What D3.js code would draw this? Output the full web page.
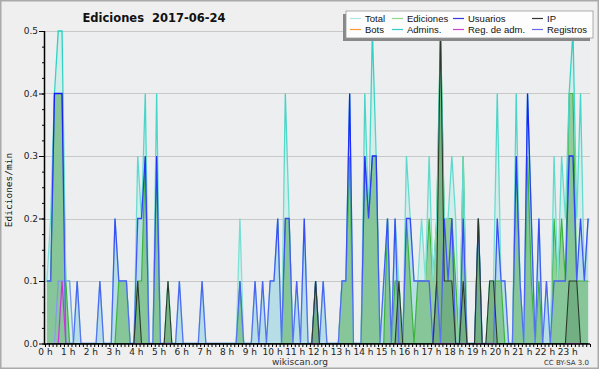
<!DOCTYPE html>
<html><head><meta charset="utf-8">
<script src="https://cdn.jsdelivr.net/npm/d3@7"></script>
<style>html,body{margin:0;padding:0;background:#fff;}svg{display:block;}</style>
</head><body>
<svg id="c" width="600" height="370"></svg>
<script>
// 10-minute intervals, 144 per day (edits per minute)
const hourLabels = d3.range(24).map(h => h + " h");
const yTicks = [0.0, 0.1, 0.2, 0.3, 0.4, 0.5];
const legendNames = ["Total","Ediciones","Usuarios","IP","Bots","Admins.","Reg. de adm.","Registros"];

const total = [
0.1,0.2,0.4,0.5,0.5,0.1,0.1,0,0.1,0,0,0,
0,0,0.1,0,0,0,0.2,0.1,0.1,0.1,0,0,
0.3,0.2,0.4,0,0,0.4,0,0,0.1,0,0,0.1,
0,0,0,0,0,0.1,0,0,0,0,0,0,
0,0,0,0.2,0,0,0,0.1,0,0.1,0,0.1,
0.1,0.2,0,0.4,0.2,0,0.1,0,0.2,0,0,0.1,
0,0.1,0,0,0,0,0.1,0.1,0.4,0,0,0,
0.4,0.2,0.5,0.3,0,0.1,0.2,0,0.2,0.1,0,0.3,
0.2,0.1,0.1,0.2,0.1,0.3,0.1,0.2,0.5,0.2,0.2,0.3,
0.2,0,0.3,0,0,0,0.2,0,0,0.1,0.1,0.4,
0.1,0.1,0,0,0.4,0.1,0,0.4,0.2,0,0.2,0,
0.1,0,0.3,0.1,0.3,0.2,0.4,0.5,0.2,0.4,0.1,0.2];

const ediciones = [
0.1,0.1,0.4,0.4,0.4,0.1,0,0,0,0,0,0,
0,0,0,0,0,0,0,0.1,0.1,0.1,0,0,
0.1,0.1,0.3,0,0,0.3,0,0,0.1,0,0,0,
0,0,0,0,0,0,0,0,0,0,0,0,
0,0,0,0.1,0,0,0,0,0,0,0,0,
0,0,0,0.2,0.2,0,0,0,0,0,0,0.1,
0,0,0,0,0,0,0.1,0.1,0.3,0,0,0,
0.3,0.2,0.3,0.3,0,0,0.2,0,0.1,0.1,0,0.2,
0.1,0,0.1,0.1,0.1,0.2,0.1,0.2,0.5,0.2,0.2,0.2,
0.1,0,0.3,0,0,0,0.2,0,0,0.1,0.1,0.1,
0.1,0,0,0,0.3,0.1,0,0.3,0.1,0,0.1,0,
0,0,0.2,0.1,0.2,0.1,0.4,0.4,0.1,0.1,0.1,0.1];

const usuarios = [
0.1,0.1,0.4,0.4,0.4,0,0,0,0.1,0,0,0,
0,0,0.1,0,0,0,0.2,0.1,0.1,0.1,0,0,
0.2,0.2,0.3,0,0,0.3,0,0,0,0,0,0.1,
0,0,0,0,0,0.1,0,0,0,0,0,0,
0,0,0,0.1,0,0,0,0.1,0,0.1,0,0.1,
0.1,0.2,0,0.2,0.2,0,0.1,0,0.2,0,0,0.1,
0,0.1,0,0,0,0,0.1,0.1,0.4,0,0,0,
0.3,0.2,0.3,0.3,0,0.1,0.2,0,0.2,0,0,0.2,
0.2,0.1,0.1,0.1,0.1,0.1,0,0.1,0,0.2,0.1,0.2,
0,0,0.2,0,0,0,0.2,0,0,0,0,0.2,
0.1,0.1,0,0,0.3,0.1,0,0.4,0.2,0,0.2,0,
0.1,0,0.1,0.1,0.1,0.1,0.3,0.3,0.1,0.2,0.1,0.2];

const ip = [
0,0,0,0,0,0,0,0,0,0,0,0,
0,0,0,0,0,0,0,0,0,0,0,0,
0.1,0,0,0,0,0,0,0,0.1,0,0,0,
0,0,0,0,0,0,0,0,0,0,0,0,
0,0,0,0,0,0,0,0,0,0,0,0,
0,0,0,0,0,0,0,0,0,0,0,0.1,
0,0,0,0,0,0,0,0,0,0,0,0,
0,0,0,0,0,0,0,0,0,0.1,0,0,
0,0,0,0,0,0,0,0.1,0.5,0.1,0.1,0.1,
0,0,0.1,0,0,0,0.2,0,0,0.1,0.1,0,
0,0,0,0,0,0,0,0,0,0,0,0,
0,0,0,0,0,0,0.1,0.1,0.1,0,0,0];

const registros = [
0,0,0,0.1,0.1,0.1,0.1,0,0,0,0,0,
0,0,0,0,0,0,0,0,0,0,0,0,
0,0,0,0,0,0,0,0,0,0,0,0,
0,0,0,0,0,0,0,0,0,0,0,0,
0,0,0,0,0,0,0,0,0,0,0,0,
0,0,0,0,0,0,0,0,0,0,0,0,
0,0,0,0,0,0,0,0,0,0,0,0,
0,0,0,0,0,0,0,0,0,0,0,0,
0,0,0,0,0,0,0,0,0,0,0,0,
0,0,0,0,0,0,0,0,0,0,0,0,
0,0,0,0,0,0,0,0,0,0,0,0,
0,0,0,0,0,0,0,0,0,0,0,0];

const regAdm = [
0,0,0,0,0.1,0,0,0,0,0,0,0,
0,0,0,0,0,0,0,0,0,0,0,0,
0,0,0,0,0,0,0,0,0,0,0,0,
0,0,0,0,0,0,0,0,0,0,0,0,
0,0,0,0,0,0,0,0,0,0,0,0,
0,0,0,0,0,0,0,0,0,0,0,0,
0,0,0,0,0,0,0,0,0,0,0,0,
0,0,0,0,0,0,0,0,0,0,0,0,
0,0,0,0,0,0,0,0,0,0,0,0,
0,0,0,0,0,0,0,0,0,0,0,0,
0,0,0,0,0,0,0,0,0,0,0,0,
0,0,0,0,0,0,0,0,0,0,0,0];

const svg = d3.select("#c");
const W = 600, H = 370;
const m = {l: 45, r: 590, t: 31, b: 343.5};

svg.append("rect").attr("x",0).attr("y",0).attr("width",W).attr("height",H).attr("fill","#fff");
svg.append("rect").attr("x",0.75).attr("y",0.75).attr("width",597.5).attr("height",367.5)
  .attr("fill","#efefef").attr("stroke","#aaaaaa").attr("stroke-width",1.5);
svg.append("rect").attr("x",m.l).attr("y",m.t).attr("width",m.r-m.l).attr("height",m.b-m.t).attr("fill","#eceef0");

const x = d3.scaleLinear().domain([0,144]).range([m.l, m.r]);
const y = d3.scaleLinear().domain([0,0.5]).range([m.b, m.t]);

// grid
svg.append("g").selectAll("line").data(yTicks.slice(1)).join("line")
  .attr("x1",m.l).attr("x2",m.r).attr("y1",d=>Math.round(y(d))+0.5).attr("y2",d=>Math.round(y(d))+0.5)
  .attr("stroke","#c8c8c8").attr("stroke-width",1);

const defs = svg.append("defs");
function grad(id, top, bottom){
  const g = defs.append("linearGradient").attr("id",id).attr("gradientUnits","userSpaceOnUse")
    .attr("x1",0).attr("x2",0).attr("y1",m.t).attr("y2",m.b);
  g.append("stop").attr("offset","0%").attr("stop-color",top);
  g.append("stop").attr("offset","100%").attr("stop-color",bottom);
}
grad("gTot","#28d0c0","#9ee6dc");
grad("gUsu","#0000ff","#5a78f0");
grad("gReg","#5050ff","#8aa0f0");

const xi = (d,i) => x(i + 0.5);
const area = d3.area().x(xi).y0(y(0)).y1(d => y(d));
const line = d3.line().x(xi).y(d => y(d));

const plot = svg.append("g");
plot.append("path").datum(total).attr("d",area).attr("fill","#b8ece4").attr("fill-opacity",0.45);
plot.append("path").datum(usuarios).attr("d",area).attr("fill","#a8d4e4").attr("fill-opacity",0.65);
plot.append("path").datum(ediciones).attr("d",area).attr("fill","#66b866").attr("fill-opacity",0.6);
plot.append("path").datum(ip).attr("d",area).attr("fill","#1e4a1e").attr("fill-opacity",0.18);

plot.append("path").datum(ediciones).attr("d",line).attr("fill","none").attr("stroke","#3cb43c").attr("stroke-width",1.2);
plot.append("path").datum(total).attr("d",line).attr("fill","none").attr("stroke","url(#gTot)").attr("stroke-width",1.3);
plot.append("path").datum(registros).attr("d",line).attr("fill","none").attr("stroke","url(#gReg)").attr("stroke-width",1.2);
plot.append("path").datum(usuarios).attr("d",line).attr("fill","none").attr("stroke","url(#gUsu)").attr("stroke-width",1.3);
plot.append("path").datum(regAdm).attr("d",line).attr("fill","none").attr("stroke","#cc33dd").attr("stroke-width",1.2);
plot.append("path").datum(ip).attr("d",line).attr("fill","none").attr("stroke","#2a3a2a").attr("stroke-width",1.1);

// axes
const font = "DejaVu Sans, Verdana, sans-serif";
const yMinor = d3.range(0, 0.5001, 0.025);
const gyMinor = svg.append("g").attr("transform",`translate(${m.l},0)`)
  .call(d3.axisLeft(y).tickValues(yMinor).tickSize(3).tickFormat(""));
const gy = svg.append("g").attr("transform",`translate(${m.l},0)`)
  .call(d3.axisLeft(y).tickValues(yTicks).tickSize(6).tickPadding(1).tickFormat(d3.format(".1f")));
[gyMinor, gy].forEach(g => {
  g.select(".domain").remove();
  g.selectAll("line").attr("stroke","#000");
});
gy.selectAll("text").attr("font-family",font).attr("font-size",9).attr("fill","#222");
svg.append("line").attr("x1",m.l-0.5).attr("x2",m.l-0.5).attr("y1",m.t).attr("y2",m.b+1).attr("stroke","#000").attr("stroke-width",1.5);

const gx = svg.append("g").attr("transform",`translate(0,${m.b+0.5})`)
  .call(d3.axisBottom(x).tickValues(d3.range(0,145)).tickSize(3).tickPadding(2)
    .tickFormat(d => (d % 6 === 0 && d < 144) ? hourLabels[d/6] : ""));
gx.select(".domain").remove();
gx.selectAll("line").attr("stroke","#000");
gx.selectAll("text").attr("font-family",font).attr("font-size",9).attr("fill","#222");
svg.append("line").attr("x1",m.l-1).attr("x2",m.r).attr("y1",m.b+0.5).attr("y2",m.b+0.5).attr("stroke","#000").attr("stroke-width",1.5);

// titles
svg.append("text").attr("x",154).attr("y",22).attr("text-anchor","middle")
  .attr("font-family",font).attr("font-weight","bold").attr("font-size",11.5).attr("fill","#111")
  .attr("xml:space","preserve").text("Ediciones  2017-06-24");
svg.append("text").attr("transform","translate(12,190) rotate(-90)").attr("text-anchor","middle")
  .attr("font-family","DejaVu Sans Mono, monospace").attr("font-size",9.5).attr("fill","#111").text("Ediciones/min");
svg.append("text").attr("x",300).attr("y",365).attr("text-anchor","middle")
  .attr("font-family",font).attr("font-size",9).attr("fill","#333").text("wikiscan.org");
svg.append("text").attr("x",589).attr("y",365).attr("text-anchor","end")
  .attr("font-family",font).attr("font-size",7).attr("fill","#333").text("CC BY-SA 3.0");

// legend
const legFont = "Liberation Sans, Arial, sans-serif";
const legColors = ["#a8e8e0","#90d890","#3838e0","#333333","#ff9933","#33cccc","#cc44cc","#6a6ae8"];
const lg = svg.append("g");
lg.append("rect").attr("x",343).attr("y",14).attr("width",247).attr("height",27).attr("fill","#888");
lg.append("rect").attr("x",346).attr("y",11).attr("width",247).attr("height",27).attr("fill","#fdfdfd").attr("stroke","#999").attr("stroke-width",0.8);
const colX = [350, 392, 453, 532];
legendNames.forEach((n,k) => {
  const c = k % 4, r = Math.floor(k / 4);
  const yy = 18.5 + r * 11;
  lg.append("line").attr("x1",colX[c]).attr("x2",colX[c]+11).attr("y1",yy).attr("y2",yy)
    .attr("stroke",legColors[k]).attr("stroke-width",1.2);
  lg.append("text").attr("x",colX[c]+15).attr("y",yy+3.3).attr("font-family",legFont).attr("font-size",9.5)
    .attr("fill","#111").text(n);
});
</script>
</body></html>
